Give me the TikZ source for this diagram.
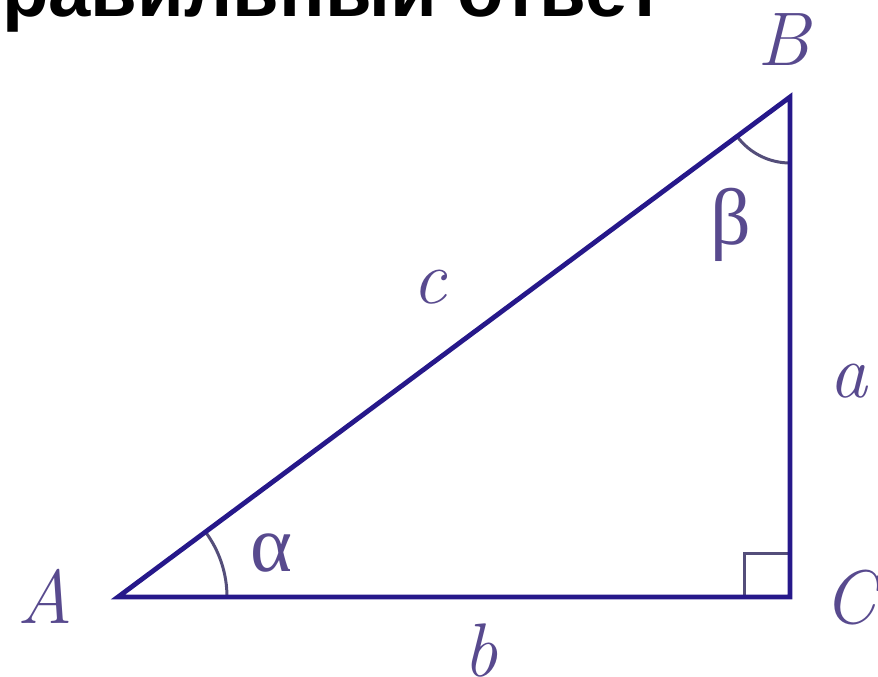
\documentclass[tikz,border=0pt]{standalone}
\usepackage{fontspec}
\usepackage{tikz}
\newfontfamily\titlefont{Liberation Sans}
\newfontfamily\greekfont{Liberation Serif}
\definecolor{sideblue}{RGB}{38, 24, 138}
\definecolor{labelviolet}{RGB}{88, 74, 142}
\definecolor{arcgray}{RGB}{84, 78, 122}
\usetikzlibrary{positioning, calc}

\begin{document}
\begin{tikzpicture}[x=1pt, y=1pt,
    side/.style={draw=sideblue, line width=4.8pt, line join=miter},
    anglemark/.style={draw=arcgray, line width=3pt},
    vertex/.style={text=labelviolet, inner sep=0pt, font=\itshape\fontsize{76}{80}\selectfont},
    greek/.style={text=labelviolet, inner sep=0pt, font=\greekfont\fontsize{80}{86}\selectfont}]
    \useasboundingbox (0,0) rectangle (878,677);

    % heading, cut off by the top edge
    \node[anchor=base east, inner sep=0pt, font=\titlefont\bfseries\fontsize{76}{80}\selectfont] (heading) at (664,660) {правильный ответ};

    % corners
    \coordinate (A) at (118,80);
    \coordinate (B) at (790,580);
    \coordinate (C) at (790,80);

    % angle marks
    \draw[anglemark] ($(A)+(109,0)$) arc[start angle=0, end angle=36.65, radius=109];
    \draw[anglemark] ($(B)+(216.65:66)$) arc[start angle=216.65, end angle=270, radius=66];
    \draw[anglemark] ($(C)+(-46,0)$) |- ($(C)+(0,43)$);

    % sides
    \draw[side] (A) -- (B) -- (C) -- cycle;

    % labels
    \node[vertex] (labelA) at (45,81) {A};
    \node[vertex] (labelB) at (784,637) {B};
    \node[vertex] (labelC) at (850,79) {C};
    \node[vertex] (labela) at (848,296) {a};
    \node[vertex] (labelb) at (481,26) {b};
    \node[vertex] (labelc) at (430,390) {c};
    \node[greek] (alpha) at (271,124) {α};
    \node[greek] (beta) at (731,452) {β};
\end{tikzpicture}
\end{document}
